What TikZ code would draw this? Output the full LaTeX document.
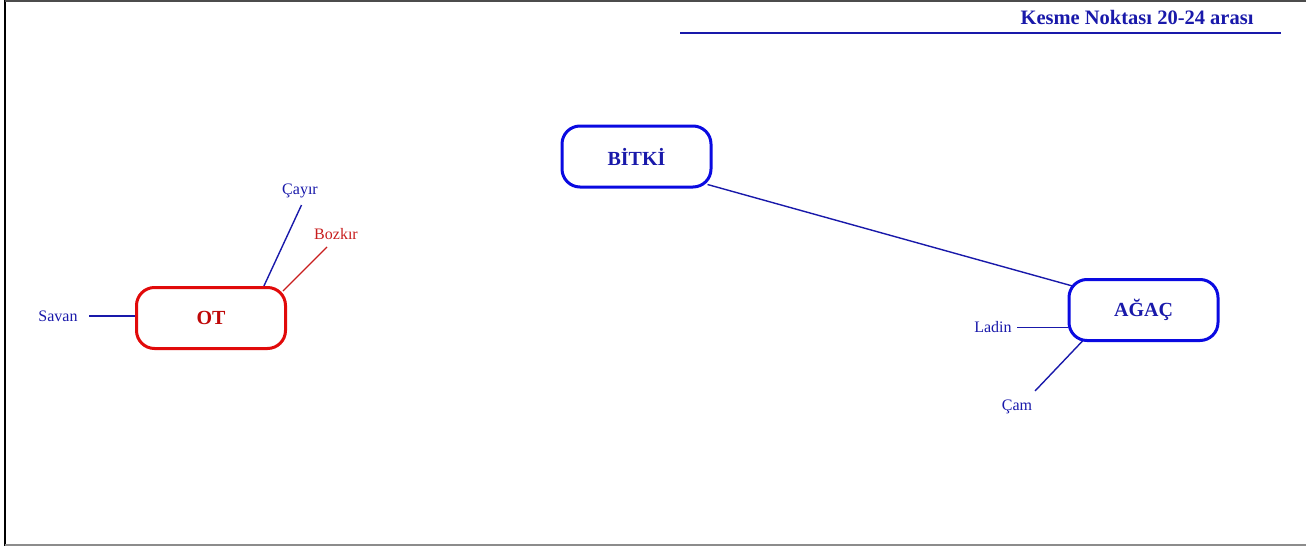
\documentclass[tikz,border=0pt]{standalone}
\usepackage{fontspec}
\setmainfont{Liberation Serif}
\usetikzlibrary{calc,backgrounds}
\definecolor{topicblue}{RGB}{10,10,225}
\definecolor{inkblue}{RGB}{25,25,170}
\definecolor{topicred}{RGB}{225,10,10}
\definecolor{inkred}{RGB}{200,30,30}
\tikzset{
  topic/.style={draw, line width=3pt, rounded corners=18pt, minimum width=149pt,
    minimum height=61pt, inner sep=0pt, font=\bfseries\fontsize{20}{22}\selectfont, fill=white},
  bluetopic/.style={topic, draw=topicblue, text=inkblue},
  redtopic/.style={topic, draw=topicred, text=topicred!85!black},
  leaf/.style={font=\fontsize{16}{18}\selectfont, inner sep=0pt},
  bluelink/.style={draw=inkblue, line width=1.4pt},
  redlink/.style={draw=inkred, line width=1.4pt}
}
\begin{document}
\begin{tikzpicture}[x=1pt,y=-1pt]
\useasboundingbox (0,0) rectangle (1306,546);
% page frame
\draw[line width=2pt, black] (5,0) -- (5,546);
\draw[line width=1.5pt, black!70] (5,1) -- (1306,1);
\draw[line width=1.5pt, black!45] (5,545) -- (1306,545);

% heading
\node[font=\bfseries\fontsize{20.5}{22}\selectfont, text=inkblue, anchor=east] (title) at (1257,17) {Kesme Noktası 20-24 arası};
\coordinate (ruleL) at (680,33);
\coordinate (ruleR) at (1281,33);
\draw[draw=inkblue, line width=1.4pt] (ruleL) -- (ruleR);

% main topics
\node[redtopic] (ot) at (211,318) {OT};
\node[bluetopic] (bitki) at (636.5,156.5) {BİTKİ};
\node[bluetopic] (agac) at (1143.5,310) {AĞAÇ};

% leaves
\node[leaf, text=inkblue] (savan) at (58,316) {Savan};
\node[leaf, text=inkblue] (cayir) at (300,191) {Çayır};
\node[leaf, text=inkred] (bozkir) at (336,234) {Bozkır};
\node[leaf, text=inkblue] (ladin) at (993,327) {Ladin};
\node[leaf, text=inkblue] (cam) at (1017,407) {Çam};

% connector ends
\coordinate (savanE) at (89,316);
\coordinate (cayirE) at (301.5,205);
\coordinate (bozkirE) at (327,247);
\coordinate (ladinE) at (1017,327.5);
\coordinate (camE) at (1035,391);

% connectors, drawn beneath the topic boxes
\begin{scope}[on background layer]
\draw[bluelink] (savanE) -- (savanE -| ot.west);
\draw[bluelink] (cayirE) -- ($(ot.north)+(52,2)$);
\draw[redlink] (bozkirE) -- ($(ot.north east)+(-4,5)$);
\draw[bluelink] (ladinE) -- (ladinE -| agac.west);
\draw[bluelink] (camE) -- ($(agac.south west)+(15,-1)$);
\draw[bluelink] ($(bitki.south east)+(-5,-4)$) -- ($(agac.north west)+(5,8)$);
\end{scope}
\end{tikzpicture}
\end{document}
